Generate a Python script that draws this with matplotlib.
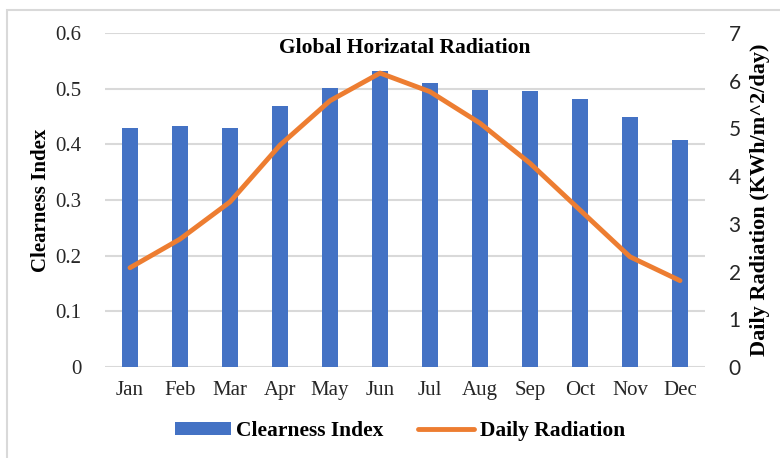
import matplotlib
matplotlib.use("Agg")
import matplotlib.pyplot as plt
from matplotlib.patches import Rectangle
import numpy as np

months = ["Jan", "Feb", "Mar", "Apr", "May", "Jun", "Jul", "Aug", "Sep", "Oct", "Nov", "Dec"]
clearness = [0.430, 0.433, 0.430, 0.468, 0.501, 0.532, 0.510, 0.497, 0.495, 0.482, 0.449, 0.407]
radiation = [2.08, 2.68, 3.46, 4.65, 5.58, 6.16, 5.77, 5.11, 4.27, 3.29, 2.31, 1.81]
left_ticks = [0, 0.1, 0.2, 0.3, 0.4, 0.5, 0.6]
left_labels = ["0", "0.1", "0.2", "0.3", "0.4", "0.5", "0.6"]
right_ticks = [0, 1, 2, 3, 4, 5, 6, 7]

plt.rcParams['font.family'] = ['Liberation Serif', 'DejaVu Serif']

fig = plt.figure(figsize=(7.8, 4.58), dpi=100)
fig.patches.append(Rectangle((7/780, -0.05), 1.0, 1 - 10/458 + 0.05, transform=fig.transFigure,
                             fill=False, edgecolor='#d9d9d9', linewidth=1.5, zorder=0))
ax = fig.add_axes([105/780, 1 - 367/458, 600/780, (367-33)/458])
x = np.arange(len(months))
ax.set_xlim(-0.5, len(months) - 0.5)
ax.set_ylim(0, 0.6)
ax.bar(x, clearness, width=0.32, color='#4472C4', zorder=3, label='Clearness Index')
ax.set_yticks(left_ticks)
ax.set_yticklabels(left_labels)
ax.set_xticks(x)
ax.set_xticklabels(months)
ax.grid(axis='y', color='#d9d9d9', linewidth=1.5, zorder=0)
ax.set_axisbelow(True)
for s in ax.spines.values():
    s.set_visible(False)
ax.tick_params(axis='both', length=0, labelsize=15, colors='#262626')
ax.tick_params(axis='y', pad=17)
ax.tick_params(axis='x', pad=10)
ax.set_ylabel('Clearness Index', fontsize=15, fontweight='bold', labelpad=3)

ax2 = ax.twinx()
ax2.set_ylim(0, 7)
ax2.set_yticks(right_ticks)
ax2.plot(x, radiation, color='#ED7D31', linewidth=3.5, solid_capstyle='round',
         solid_joinstyle='round', zorder=4, label='Daily Radiation')
for s in ax2.spines.values():
    s.set_visible(False)
ax2.tick_params(axis='y', length=0, labelsize=15, colors='#262626', pad=17)
for lab in ax2.get_yticklabels():
    lab.set_family(['Lato', 'DejaVu Sans'])
ax2.set_ylabel('Daily Radiation (KWh/m^2/day)', fontsize=16, fontweight='bold', labelpad=7)

ax.text(0.5, 0.955, 'Global Horizatal Radiation', transform=ax.transAxes, ha='center',
        va='center', fontsize=15.5, fontweight='bold', zorder=5)

h1, l1 = ax.get_legend_handles_labels()
h2, l2 = ax2.get_legend_handles_labels()
fig.legend(h1 + h2, l1 + l2, loc='center', bbox_to_anchor=(400/780, 1 - 431/458), ncol=2,
           frameon=False, prop={'size': 15.5, 'weight': 'bold'}, handlelength=2.6,
           handleheight=0.6, columnspacing=1.6, handletextpad=0.25)

fig.savefig('out.png', dpi=100)
